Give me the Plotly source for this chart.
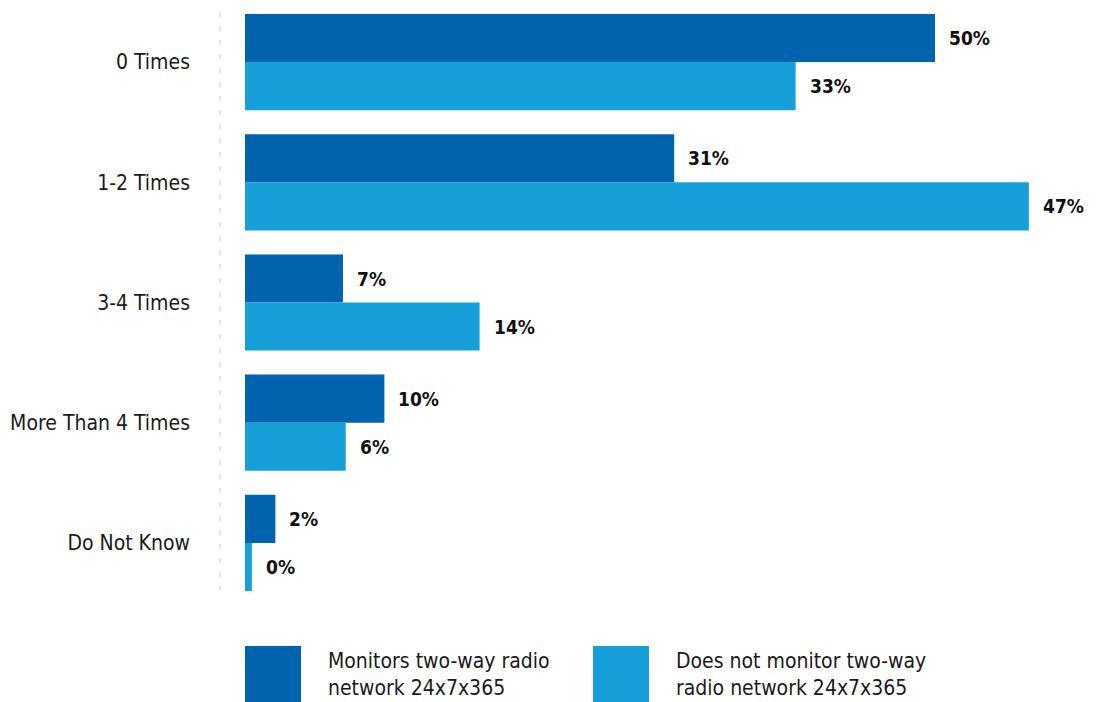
import plotly.graph_objects as go

categories = ["0 Times", "1-2 Times", "3-4 Times", "More Than 4 Times", "Do Not Know"]
series_names = ["Monitors two-way radio<br>network 24x7x365",
                "Does not monitor two-way<br>radio network 24x7x365"]
# bar lengths (same scale for both series)
monitors_len = [50.0, 31.1, 7.1, 10.1, 2.2]
not_monitors_len = [39.9, 56.8, 17.0, 7.3, 0.5]
# printed labels
monitors_lbl = ["50%", "31%", "7%", "10%", "2%"]
not_monitors_lbl = ["33%", "47%", "14%", "6%", "0%"]

DARK = "#0063AE"
LIGHT = "#179FDA"
FONT = "Liberation Sans Narrow, DejaVu Sans Condensed, Roboto, sans-serif"

W, H = 1096, 702
ML, MR, MT, MB = 220, 0, 2, 99
PX_PER_UNIT = 13.8
xmin = -25 / PX_PER_UNIT
xmax = xmin + (W - ML - MR) / PX_PER_UNIT

fig = go.Figure()
fig.add_trace(go.Bar(y=categories, x=monitors_len, orientation="h",
                     marker=dict(color=DARK, line=dict(width=0)),
                     name="Monitors", showlegend=False, hoverinfo="skip"))
fig.add_trace(go.Bar(y=categories, x=not_monitors_len, orientation="h",
                     marker=dict(color=LIGHT, line=dict(width=0)),
                     name="Does not monitor", showlegend=False, hoverinfo="skip"))

annotations = []
for vals, lbls, shift in [(monitors_len, monitors_lbl, 24), (not_monitors_len, not_monitors_lbl, -24)]:
    for c, v, t in zip(categories, vals, lbls):
        annotations.append(dict(x=v, y=c, xref="x", yref="y", text="<b>%s</b>" % t,
                                showarrow=False, xanchor="left", yanchor="middle",
                                xshift=12, yshift=shift,
                                font=dict(family=FONT, size=19, color="#111111")))

pw = W - ML - MR
ph = H - MT - MB
def px_x(p):
    return (p - ML) / pw
def px_y(p):
    return (H - MB - p) / ph

shapes = [dict(type="line", xref="paper", yref="paper", x0=0, x1=0,
               y0=px_y(12), y1=px_y(590),
               line=dict(color="#DCDCDC", width=1.5, dash="5px,9px"))]

# custom legend
for (sx, tx), col, name in zip([(245, 326), (593, 674)], [DARK, LIGHT], series_names):
    shapes.append(dict(type="rect", xref="paper", yref="paper",
                       x0=px_x(sx), x1=px_x(sx + 56), y0=px_y(646), y1=px_y(702),
                       fillcolor=col, line=dict(width=0)))
    annotations.append(dict(x=px_x(tx), y=px_y(675), xref="paper", yref="paper",
                            text=name, showarrow=False, xanchor="left", yanchor="middle",
                            align="left",
                            font=dict(family=FONT, size=21, color="#1a1a1a")))

fig.update_layout(
    width=W, height=H,
    margin=dict(l=ML, r=MR, t=MT, b=MB, pad=0, autoexpand=False),
    paper_bgcolor="white", plot_bgcolor="white",
    barmode="group", bargap=0.2, bargroupgap=0,
    xaxis=dict(range=[xmin, xmax], visible=False, showgrid=False, zeroline=False,
               automargin=False),
    yaxis=dict(categoryorder="array", categoryarray=categories, automargin=False,
               range=[4.5, -0.5], showgrid=False, zeroline=False, showline=False,
               ticks="", ticklabelstandoff=29,
               tickfont=dict(family=FONT, size=21, color="#1a1a1a")),
    shapes=shapes, annotations=annotations,
)

fig.write_html("out.html")
